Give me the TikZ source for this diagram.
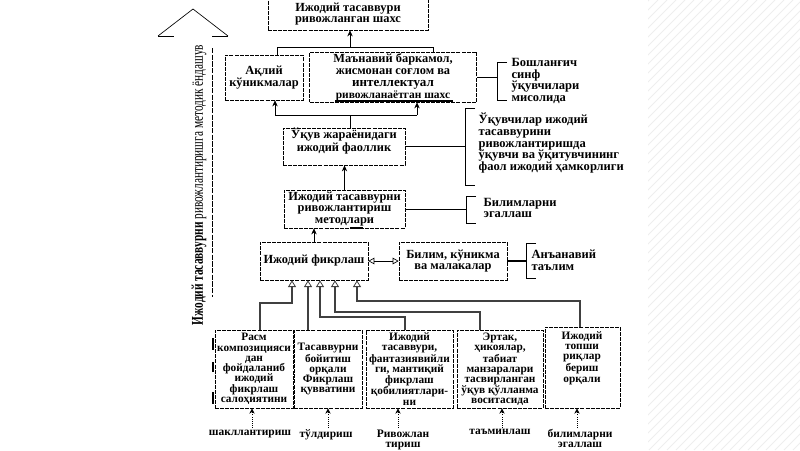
\documentclass[tikz,border=0pt]{standalone}
\usepackage{fontspec}
\setmainfont{Liberation Serif}
\usetikzlibrary{arrows.meta}
\tikzset{
  box/.style={draw, dash pattern=on 3pt off 0.8pt, line width=0.55pt, inner sep=0pt},
  txt/.style={font=\bfseries\fontsize{9.3}{8.4}\selectfont, align=center, inner sep=1pt},
  rtxt/.style={font=\bfseries\fontsize{9.4}{8.9}\selectfont, align=left, anchor=west, inner sep=1pt},
  btxt/.style={font=\bfseries\fontsize{8.5}{7.7}\selectfont, align=center, inner sep=1pt},
  ltxt/.style={font=\bfseries\fontsize{8.6}{7.6}\selectfont, align=center, inner sep=1pt, anchor=north},
  arr/.style={-{Stealth[length=4.5pt,width=4pt]}, line width=0.5pt},
  dblarr/.style={{Triangle[open,length=4.5pt,width=5pt]}-{Triangle[open,length=4.5pt,width=5pt]}, line width=0.5pt},
  dbl/.style={draw=black!75, line width=0.9pt, -{Triangle[open,length=5pt,width=6pt,line width=0.6pt]}},
  darr/.style={densely dotted, line width=0.6pt, -{Stealth[length=4pt,width=4pt]}},
  brk/.style={line width=0.6pt},
  conn/.style={line width=0.5pt}
}
\begin{document}
\begin{tikzpicture}[x=0.75pt,y=-0.75pt]
\useasboundingbox (0,0) rectangle (800,450);
\fill[white] (0,0) rectangle (800,450);
% faint hatching on the right
\begin{scope}
  \clip (648,0) rectangle (800,450);
  \foreach \i in {190,199,...,800} \draw[gray!13, line width=0.7pt] (\i,450) -- (\i+450,0);
\end{scope}

% big upward arrow with vertical caption
\draw[line width=0.5pt] (158,36) -- (193,9) -- (228,36);
\draw[line width=0.5pt] (158,36) -- (174,36);
\draw[line width=0.5pt] (212,36) -- (228,36);
\draw[dash pattern=on 4pt off 1pt, line width=0.6pt] (212,48) -- (212,297);
\node[rotate=90, inner sep=0pt] (vt) at (199,185)
  {\resizebox{210pt}{8.5pt}{\bfseries Ижодий тасаввурни \mdseries ривожлантиришга методик ёндашув}};

% main boxes
\node[box, minimum width=120pt, minimum height=24pt, txt] (top) at (348,14) {Ижодий тасаввури\\ривожланган шахс};
\node[box, minimum width=58.5pt, minimum height=33.75pt, txt] (b2) at (264,77.5) {Ақлий\\кўникмалар};
\node[box, minimum width=125.25pt, minimum height=37.5pt, txt, font=\bfseries\fontsize{9.3}{8.9}\selectfont] (b3) at (393,77)
  {Маънавий баркамол,\\жисмонан соғлом ва\\{\fontsize{9.8}{8.9}\selectfont интеллектуал}\\{\fontsize{8.6}{8.9}\selectfont ривожланаётган шахс}};
\draw[line width=1.3pt] (335,101) -- (453,101);
\node[box, minimum width=91.5pt, minimum height=27.75pt] (b4) at (344,146.5) {};
\node[txt] (b4t) at (344,141) {Ўқув жараёнидаги\\ижодий фаоллик};
\node[box, minimum width=90.75pt, minimum height=28.5pt, txt] (b5) at (344.5,209) {Ижодий тасаввурни\\ривожлантириш\\методлари};
\draw[line width=1.3pt] (350,228) -- (363,228);
\node[box, minimum width=81pt, minimum height=28.5pt, txt] (b6) at (314,261) {Ижодий фикрлаш};
\node[box, minimum width=81pt, minimum height=28.5pt, txt] (b7) at (453,261) {Билим, кўникма\\ва малакалар};

% bottom boxes
\node[box, minimum width=58.5pt, minimum height=58.5pt, btxt] (b8) at (254,369) {Расм\\композицияси\\дан\\фойдаланиб\\ижодий\\фикрлаш\\салоҳиятини};
\draw[line width=1.2pt] (213,338) -- (213,350) (213,362) -- (213,372) (213,392) -- (213,404);
\node[box, minimum width=51pt, minimum height=58.5pt, btxt] (b9) at (328,369) {Тасаввурни\\бойитиш\\орқали\\Фикрлаш\\қувватини};
\node[box, minimum width=65.25pt, minimum height=58.5pt, btxt] (b10) at (409.5,369) {Ижодий\\тасаввури,\\фантазиявийли\\ги, мантиқий\\фикрлаш\\қобилиятлари-\\ни};
\node[box, minimum width=64.5pt, minimum height=58.5pt, btxt] (b11) at (500,369) {Эртак,\\ҳикоялар,\\табиат\\манзаралари\\тасвирланган\\ўқув қўлланма\\воситасида};
\node[box, minimum width=56.25pt, minimum height=60.75pt] (b12) at (582.5,367.5) {};
\node[btxt] (b12t) at (582,358) {Ижодий\\топши\\риқлар\\бериш\\орқали};

% right-hand brackets and notes
\coordinate (r1) at (497,77);
\draw[brk] (507,62) -- (497,62) -- (497,100) -- (507,100);
\node[rtxt] (n1) at (510,81) {Бошланғич\\синф\\ўқувчилари\\мисолида};
\draw[conn] (b3.east) -- (r1);

\coordinate (r2) at (465,146.5);
\draw[brk] (475,108) -- (465,108) -- (465,185) -- (475,185);
\node[rtxt] (n2) at (477,143) {Ўқувчилар ижодий\\тасаввурини\\ривожлантиришда\\ўқувчи ва ўқитувчининг\\фаол ижодий ҳамкорлиги};
\draw[conn] (b4.east) -- (r2);

\coordinate (r3) at (466,209);
\draw[brk] (476,196) -- (466,196) -- (466,223) -- (476,223);
\node[rtxt] (n3) at (482,208) {Билимларни\\эгаллаш};
\draw[conn] (b5.east) -- (r3);

\coordinate (r4) at (526,261);
\draw[brk] (536,243) -- (526,243) -- (526,278) -- (536,278);
\node[rtxt] (n4) at (530,260) {Анъанавий\\таълим};
\draw[line width=1.2pt] (b7.east) -- (r4);

% upper connectors
\coordinate (tA) at (277,47);
\coordinate (tB) at (433,47);
\coordinate (tC) at (350,47);
\draw[conn] (tA |- b2.north) -- (tA) -- (tB) -- (tB |- b3.north);
\draw[arr] (tC) -- (tC |- top.south);

\coordinate (mA) at (275,115);
\coordinate (mB) at (417,115);
\coordinate (mC) at (350,115);
\draw[conn] (mA) -- (mB);
\draw[arr] (mA) -- (mA |- b2.south);
\draw[arr] (mB) -- (mB |- b3.south);
\draw[conn] (mC |- b4.north) -- (mC);

\draw[arr] (b5.north) -- (b5.north |- b4.south);
\draw[arr] (b6.north) -- (b6.north |- b5.south);
\draw[dblarr] (b6.east) -- (b7.west);

% lower connectors into "Ижодий фикрлаш"
\coordinate (a1) at (260,303); \coordinate (a1b) at (292,303);
\draw[dbl] (a1 |- b8.north) -- (a1) -- (a1b) -- (a1b |- b6.south);
\coordinate (a2) at (308,300);
\draw[dbl] (a2 |- b9.north) -- (a2 |- b6.south);
\coordinate (a3) at (405,317); \coordinate (a3b) at (320,317);
\draw[dbl] (a3 |- b10.north) -- (a3) -- (a3b) -- (a3b |- b6.south);
\coordinate (a4) at (480,312); \coordinate (a4b) at (335,312);
\draw[dbl] (a4 |- b11.north) -- (a4) -- (a4b) -- (a4b |- b6.south);
\coordinate (a5) at (580,301); \coordinate (a5b) at (357,301);
\draw[dbl] (a5 |- b12.north) -- (a5) -- (a5b) -- (a5b |- b6.south);

% bottom labels
\node[ltxt] (l1) at (250,428) {шакллантириш};
\node[ltxt] (l2) at (326,428) {тўлдириш};
\node[ltxt] (l3) at (403,428) {Ривожлан\\тириш};
\node[ltxt] (l4) at (500,428) {таъминлаш};
\node[ltxt] (l5) at (580,428) {билимларни\\эгаллаш};
\coordinate (d1) at (252,428); \coordinate (d2) at (328,428); \coordinate (d3) at (398,428);
\coordinate (d4) at (502,428); \coordinate (d5) at (577,428);
\draw[darr] (d1) -- (d1 |- b8.south);
\draw[darr] (d2) -- (d2 |- b9.south);
\draw[darr] (d3) -- (d3 |- b10.south);
\draw[darr] (d4) -- (d4 |- b11.south);
\draw[darr] (d5) -- (d5 |- b12.south);
\end{tikzpicture}
\end{document}
